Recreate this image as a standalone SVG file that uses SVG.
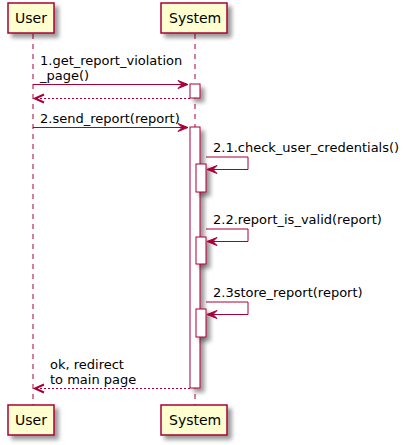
<svg xmlns="http://www.w3.org/2000/svg" width="407" height="445" viewBox="0 0 407 445">
<defs>
<filter id="sh" x="-1" y="-1" width="300%" height="300%">
<feGaussianBlur in="SourceAlpha" stdDeviation="2"/>
<feOffset dx="4" dy="4" result="b"/>
<feComponentTransfer><feFuncA type="linear" slope="0.4"/></feComponentTransfer>
<feMerge><feMergeNode/><feMergeNode in="SourceGraphic"/></feMerge>
</filter>
<style>
.life{stroke:#A80036;stroke-width:1;stroke-dasharray:5,5;fill:none}
.part{fill:#FEFECE;stroke:#A80036;stroke-width:1.5}
.act{fill:#FFFFFF;stroke:#A80036;stroke-width:1}
.pt{font-family:"DejaVu Sans",sans-serif;font-size:14px;fill:#000}
.mt{font-family:"DejaVu Sans",sans-serif;font-size:13px;fill:#000}
.msg{stroke:#A80036;stroke-width:1;fill:none}
.ret{stroke:#A80036;stroke-width:1;fill:none;stroke-dasharray:2,2}
.head{fill:#A80036;stroke:#A80036;stroke-width:1}
.ohead{stroke:#A80036;stroke-width:2;fill:none}
</style>
</defs>
<g id="lifelines">
<line class="life" x1="33" y1="34" x2="33" y2="405"/>
<line class="life" x1="195" y1="34" x2="195" y2="405"/>
</g>
<g id="activations">
<rect class="act" filter="url(#sh)" x="190" y="84" width="10" height="14"/>
<rect class="act" filter="url(#sh)" x="190" y="127" width="10" height="261"/>
<rect class="act" filter="url(#sh)" x="196" y="164" width="10" height="28"/>
<rect class="act" filter="url(#sh)" x="196" y="237" width="10" height="27"/>
<rect class="act" filter="url(#sh)" x="196" y="309" width="10" height="28"/>
</g>
<g id="User">
<rect class="part" filter="url(#sh)" x="8" y="3" width="46" height="30"/>
<text class="pt" x="15" y="23">User</text>
</g>
<g id="System">
<rect class="part" filter="url(#sh)" x="161" y="3" width="66" height="30"/>
<text class="pt" x="169" y="23">System</text>
</g>
<g id="User_bottom">
<rect class="part" filter="url(#sh)" x="8" y="405" width="46" height="30"/>
<text class="pt" x="15" y="425">User</text>
</g>
<g id="System_bottom">
<rect class="part" filter="url(#sh)" x="161" y="405" width="66" height="30"/>
<text class="pt" x="169" y="425">System</text>
</g>
<g id="connectors">
<line class="msg" x1="33" y1="84.5" x2="188" y2="84.5"/>
<polygon class="head" points="178,80.5 188,84.5 178,88.5 182,84.5"/>
<text class="mt" x="40" y="65">1.get_report_violation</text>
<text class="mt" x="40" y="80">_page()</text>

<line class="ret" x1="190" y1="98.5" x2="35" y2="98.5"/>
<polyline class="ohead" points="44,94.5 35,98.5 44,102.5"/>

<line class="msg" x1="33" y1="127.5" x2="188" y2="127.5"/>
<polygon class="head" points="178,123.5 188,127.5 178,131.5 182,127.5"/>
<text class="mt" x="40" y="123">2.send_report(report)</text>

<polyline class="msg" points="206,157 248,157 248,169.5 207,169.5"/>
<polygon class="head" points="217,165.5 207,169.5 217,173.5 213,169.5"/>
<text class="mt" x="213" y="152">2.1.check_user_credentials()</text>

<polyline class="msg" points="206,229 248,229 248,241.5 207,241.5"/>
<polygon class="head" points="217,237.5 207,241.5 217,245.5 213,241.5"/>
<text class="mt" x="213" y="224">2.2.report_is_valid(report)</text>

<polyline class="msg" points="206,302 248,302 248,314.5 207,314.5"/>
<polygon class="head" points="217,310.5 207,314.5 217,318.5 213,314.5"/>
<text class="mt" x="213" y="297">2.3store_report(report)</text>

<line class="ret" x1="190" y1="388.5" x2="35" y2="388.5"/>
<polyline class="ohead" points="44,384.5 35,388.5 44,392.5"/>
<text class="mt" x="50" y="369">ok, redirect</text>
<text class="mt" x="50" y="384">to main page</text>
</g>
</svg>
